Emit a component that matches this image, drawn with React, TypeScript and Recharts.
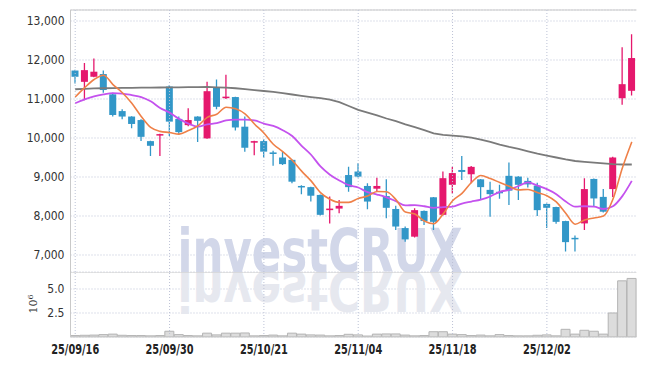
import {
  ComposedChart,
  Bar,
  Line,
  XAxis,
  YAxis,
  CartesianGrid,
  ReferenceLine,
  Customized,
} from "recharts";

const dates = [
  "25/09/16", "25/09/17", "25/09/18", "25/09/19", "25/09/22", "25/09/23", "25/09/24", "25/09/25", "25/09/26", "25/09/29",
  "25/09/30", "25/10/01", "25/10/02", "25/10/10", "25/10/13", "25/10/14", "25/10/15", "25/10/16", "25/10/17", "25/10/20",
  "25/10/21", "25/10/22", "25/10/23", "25/10/24", "25/10/27", "25/10/28", "25/10/29", "25/10/30", "25/10/31", "25/11/03",
  "25/11/04", "25/11/05", "25/11/06", "25/11/07", "25/11/10", "25/11/11", "25/11/12", "25/11/13", "25/11/14", "25/11/17",
  "25/11/18", "25/11/19", "25/11/20", "25/11/21", "25/11/24", "25/11/25", "25/11/26", "25/11/27", "25/11/28", "25/12/01",
  "25/12/02", "25/12/03", "25/12/04", "25/12/05", "25/12/08", "25/12/09", "25/12/10", "25/12/11", "25/12/12", "25/12/15",
];

const opens = [
  11730, 11440, 11570, 11640, 11120, 10690, 10550, 10460, 9920, 10070,
  11320, 10490, 10330, 10550, 9990, 11290, 11030, 11050, 10290, 9880,
  9920, 9630, 9500, 9440, 8770, 8740, 8540, 8150, 8190, 9050,
  9140, 8770, 8700, 8510, 8180, 7690, 7470, 8130, 8480, 8030,
  8800, 9180, 9070, 8940, 8670, 8620, 9030, 9010, 8900, 8780,
  8310, 8230, 7870, 7440, 7810, 8950, 8490, 8690, 11020, 11210,
];
const highs = [
  11750, 11920, 12040, 11730, 11160, 10740, 10560, 10480, 9930, 10110,
  11360, 10550, 10760, 10560, 11440, 11500, 11620, 11060, 10550, 9930,
  9970, 9670, 9650, 9450, 8790, 8750, 8550, 8500, 8410, 9260,
  9350, 8840, 8980, 8940, 8260, 7730, 8200, 8140, 8490, 9140,
  9260, 9540, 9280, 8950, 8880, 8800, 9370, 9020, 8980, 8850,
  8320, 8240, 7880, 7500, 8970, 8960, 8690, 9520, 12330, 12660,
];
const lows = [
  11400, 10970, 11560, 11160, 10550, 10480, 10250, 9920, 9540, 9540,
  10050, 10080, 10300, 9900, 9980, 10740, 11000, 10190, 9650, 9560,
  9500, 9290, 9310, 8840, 8560, 8370, 8010, 7810, 8070, 8620,
  8990, 8170, 8620, 7940, 7640, 7340, 7450, 7770, 7640, 8010,
  8580, 8920, 8840, 8410, 7980, 8440, 8280, 8410, 8730, 8000,
  7690, 7800, 7090, 7090, 7640, 8240, 8090, 8490, 10850, 11090,
];
const closes = [
  11570, 11740, 11700, 11230, 10590, 10550, 10360, 10030, 9800, 10100,
  10420, 10150, 10460, 10440, 11200, 10800, 11060, 10270, 9750, 9920,
  9650, 9590, 9330, 8880, 8740, 8520, 8030, 8190, 8260, 8740,
  9010, 8370, 8770, 8210, 7730, 7400, 8150, 7870, 7850, 8970,
  9100, 9130, 9260, 8740, 8560, 8590, 8650, 8800, 8810, 8150,
  8210, 7850, 7330, 7420, 8690, 8450, 8110, 9500, 11380, 12050,
];

// volume in millions of shares
const volumes = [
  0.15, 0.18, 0.2, 0.25, 0.3, 0.18, 0.15, 0.15, 0.12, 0.15,
  0.6, 0.25, 0.15, 0.12, 0.4, 0.22, 0.4, 0.4, 0.42, 0.12,
  0.15, 0.2, 0.12, 0.4, 0.3, 0.22, 0.2, 0.12, 0.15, 0.28,
  0.22, 0.1, 0.3, 0.32, 0.32, 0.2, 0.12, 0.15, 0.55, 0.55,
  0.3, 0.25, 0.15, 0.2, 0.12, 0.25, 0.15, 0.12, 0.12, 0.18,
  0.22, 0.12, 0.8, 0.3, 0.7, 0.6, 0.3, 2.5, 5.85, 6.1,
];

const ma5 = [
  11050, 11290, 11500, 11610, 11370, 11160, 10890, 10550, 10270, 10170,
  10140, 10100, 10190, 10310, 10530, 10610, 10790, 10750, 10620, 10360,
  10130, 9840, 9650, 9430, 9150, 8900, 8600, 8430, 8350, 8350,
  8450, 8510, 8630, 8620, 8420, 8100, 8050, 7870, 7800, 8050,
  8390, 8580, 8860, 9040, 8960, 8860, 8760, 8670, 8680, 8600,
  8520, 8360, 8070, 7790, 7900, 7950, 8000, 8430, 9230, 9900,
];
const ma10 = [
  10890, 10990, 11070, 11120, 11150, 11140, 11100, 11050, 10940, 10770,
  10650, 10490, 10370, 10290, 10350, 10380, 10450, 10470, 10470, 10450,
  10370, 10310, 10200, 10050, 9800, 9570, 9270, 9060, 8910, 8790,
  8730, 8610, 8550, 8480, 8380, 8270, 8280, 8250, 8210, 8230,
  8240, 8320, 8370, 8420, 8500, 8620, 8670, 8770, 8860, 8780,
  8690, 8560, 8370, 8240, 8250, 8240, 8180, 8250, 8510, 8900,
];
const ma60 = [
  11250, 11260, 11270, 11275, 11280, 11285, 11285, 11290, 11290, 11295,
  11300, 11300, 11305, 11305, 11310, 11300, 11290, 11275, 11255, 11230,
  11205, 11180, 11150, 11115, 11080, 11050, 11020, 10985, 10920, 10820,
  10720, 10650, 10580, 10500, 10430, 10350, 10280, 10200, 10120, 10080,
  10060, 10040, 10010, 9960, 9900, 9830, 9770, 9720, 9660, 9600,
  9550, 9500, 9450, 9410, 9390, 9370, 9350, 9330, 9320, 9320,
];

const priceTicks = [7000, 8000, 9000, 10000, 11000, 12000, 13000];
const priceDomain = [6564, 13282];
const volumeTicks = [2.5, 5];
const volumeDomain = [0, 6.77];
const labelDates = ["25/09/16", "25/09/30", "25/10/21", "25/11/04", "25/11/18", "25/12/02"];

const UP = "#e5186d";
const DOWN = "#3297c8";
const GRID = "#bcc2d6";
const BORDER = "#c9c9c9";
const CONDENSED = "'DejaVu Sans Condensed', sans-serif";

const rows = dates.map((date, i) => ({
  date,
  open: opens[i],
  high: highs[i],
  low: lows[i],
  close: closes[i],
  range: [lows[i], highs[i]],
  volume: volumes[i],
  ma5: ma5[i],
  ma10: ma10[i],
  ma60: ma60[i],
}));

function Candle(props: any) {
  const { x, y, width, height, payload } = props;
  if (!payload) return null;
  const top = Math.min(y, y + height);
  const h = Math.abs(height);
  const span = payload.high - payload.low || 1;
  const py = (v: number) => top + ((payload.high - v) / span) * h;
  const color = payload.close >= payload.open ? UP : DOWN;
  const cx = x + width / 2;
  const bodyTop = py(Math.max(payload.open, payload.close));
  const bodyBot = py(Math.min(payload.open, payload.close));
  const bw = 7;
  return (
    <g>
      <line x1={cx} x2={cx} y1={top} y2={top + h} stroke={color} strokeWidth={1.3} />
      <rect x={cx - bw / 2} y={bodyTop} width={bw} height={Math.max(bodyBot - bodyTop, 1.5)} fill={color} />
    </g>
  );
}

// narrow bold date labels
function DateTick(props: any) {
  const { x, y, payload } = props;
  return (
    <text
      x={x}
      y={y}
      dy={11}
      textAnchor="middle"
      textLength={48}
      lengthAdjust="spacingAndGlyphs"
      fontFamily={CONDENSED}
      fontWeight="bold"
      fontSize={14}
      fill="#222"
    >
      {payload.value}
    </text>
  );
}

// watermark, drawn above the grid and under the candles
function Watermark() {
  return (
    <text
      x={320}
      y={272}
      textAnchor="middle"
      textLength={285}
      lengthAdjust="spacingAndGlyphs"
      fontFamily={CONDENSED}
      fontWeight="bold"
      fontSize={60}
      fill="#d2d7e9"
    >
      investCRUX
    </text>
  );
}

function WatermarkMirror() {
  return (
    <text
      x={320}
      y={0}
      textAnchor="middle"
      textLength={285}
      lengthAdjust="spacingAndGlyphs"
      fontFamily={CONDENSED}
      fontWeight="bold"
      fontSize={60}
      fill="#e6e8ef"
      transform="scale(1,-0.92)"
    >
      investCRUX
    </text>
  );
}

const yTick = { fill: "#333", fontSize: 12, fontFamily: CONDENSED };

export default function App() {
  return (
    <div style={{ position: "relative", width: 645, height: 366, margin: -8, background: "#fff" }}>
      <div style={{ position: "absolute", left: 0, top: 0 }}>
        <ComposedChart
          width={645}
          height={272}
          data={rows}
          margin={{ top: 10, right: 8.5, bottom: 0, left: 8.5 }}
          barCategoryGap={0}
        >
          <CartesianGrid vertical={false} stroke={GRID} strokeDasharray="1 2" />
          <XAxis dataKey="date" hide />
          <YAxis
            domain={priceDomain}
            ticks={priceTicks}
            allowDataOverflow
            width={62}
            tickLine={false}
            tickSize={0}
            tickMargin={6}
            axisLine={{ stroke: BORDER }}
            tick={yTick}
            tickFormatter={(v: number) => v.toLocaleString("en-US")}
          />
          <YAxis
            yAxisId="r"
            orientation="right"
            width={0}
            tick={false}
            tickLine={false}
            axisLine={{ stroke: GRID, strokeDasharray: "1 2" }}
          />
          <ReferenceLine y={priceDomain[1]} stroke={BORDER} />
          {labelDates.map((d) => (
            <ReferenceLine key={d} x={d} stroke={GRID} strokeDasharray="1 2" />
          ))}
          <Customized component={Watermark} />
          <Bar dataKey="range" shape={<Candle />} isAnimationActive={false} />
          <Line type="linear" dataKey="ma60" stroke="#7a7a7a" strokeWidth={1.8} dot={false} isAnimationActive={false} />
          <Line type="monotone" dataKey="ma10" stroke="#c452ee" strokeWidth={1.8} dot={false} isAnimationActive={false} />
          <Line type="monotone" dataKey="ma5" stroke="#ef8048" strokeWidth={1.6} dot={false} isAnimationActive={false} />
        </ComposedChart>
      </div>

      <div style={{ position: "absolute", left: 0, top: 272 }}>
        <ComposedChart
          width={645}
          height={94}
          data={rows}
          margin={{ top: 0, right: 8.5, bottom: 6, left: 8.5 }}
          barCategoryGap={0}
        >
          <CartesianGrid vertical={false} stroke={GRID} strokeDasharray="1 2" />
          <XAxis
            dataKey="date"
            interval={9}
            height={23}
            tickLine={false}
            tickSize={0}
            tickMargin={6}
            axisLine={{ stroke: BORDER }}
            tick={<DateTick />}
          />
          <YAxis
            domain={volumeDomain}
            ticks={volumeTicks}
            allowDataOverflow
            width={62}
            tickLine={false}
            tickSize={0}
            tickMargin={6}
            axisLine={{ stroke: BORDER }}
            tick={yTick}
            tickFormatter={(v: number) => v.toFixed(1)}
          />
          <YAxis
            yAxisId="r"
            orientation="right"
            width={0}
            tick={false}
            tickLine={false}
            axisLine={{ stroke: GRID, strokeDasharray: "1 2" }}
          />
          <ReferenceLine y={volumeDomain[1]} stroke={BORDER} />
          {labelDates.map((d) => (
            <ReferenceLine key={d} x={d} stroke={GRID} strokeDasharray="1 2" />
          ))}
          <Customized component={WatermarkMirror} />
          <Bar dataKey="volume" fill="#dcdcdc" stroke="#b4b4b4" strokeWidth={1} isAnimationActive={false} />
        </ComposedChart>
      </div>

      <svg width={645} height={366} style={{ position: "absolute", left: 0, top: 0, pointerEvents: "none" }}>
        <text
          transform="translate(37,304) rotate(-90)"
          textAnchor="middle"
          fontFamily="'DejaVu Serif', serif"
          fontSize={11}
          fill="#333"
        >
          10<tspan dy={-4} fontSize={8}>6</tspan>
        </text>
      </svg>
    </div>
  );
}
